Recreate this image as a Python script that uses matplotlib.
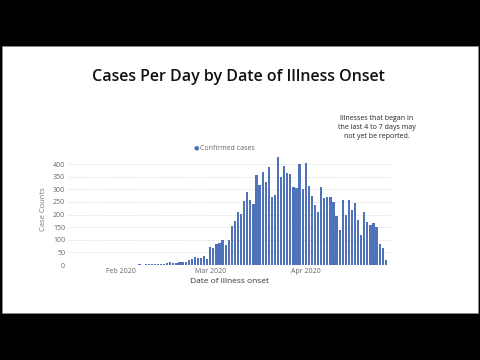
import matplotlib
matplotlib.use("Agg")
import matplotlib.pyplot as plt
import matplotlib.dates as mdates
import numpy as np
from datetime import date, timedelta
from matplotlib.patches import Rectangle

plt.rcParams['font.family'] = ['Open Sans', 'DejaVu Sans']

# ---- data ----
start_date = date(2020, 1, 15)
early_cases = [1, 0, 1, 0, 1, 1, 0, 1, 0, 1, 0, 1, 1, 0, 1, 0, 1, 0, 1, 1, 0, 1,
               1, 2, 1, 2, 3, 2, 3, 4, 3, 5, 6]
later_cases = [13, 8, 8, 12, 12, 12, 18, 25, 30, 26, 28, 36, 25, 70, 66, 82, 86, 99,
               79, 98, 153, 174, 210, 202, 253, 289, 256, 240, 358, 319, 367, 330,
               389, 268, 276, 430, 350, 392, 363, 359, 309, 305, 400, 302, 405, 313,
               273, 238, 211, 308, 264, 268, 269, 251, 194, 137, 259, 198, 256, 218,
               244, 178, 119, 209, 169, 158, 165, 152, 82, 69, 20]
cases = early_cases + later_cases
dates = [start_date + timedelta(days=i) for i in range(len(cases))]
y_ticks = [0, 50, 100, 150, 200, 250, 300, 350, 400]
x_tick_dates = [date(2020, 2, 1), date(2020, 3, 1), date(2020, 4, 1)]
x_tick_labels = ["Feb 2020", "Mar 2020", "Apr 2020"]

title = "Cases Per Day by Date of Illness Onset"
note = "Illnesses that began in\nthe last 4 to 7 days may\nnot yet be reported."
bar_color = "#4F72B8"

W, H = 480, 360
fig = plt.figure(figsize=(W / 100, H / 100), dpi=100, facecolor="black")

# white panel
fig.patches.append(Rectangle((2 / W, 1 - 313 / H), 476 / W, 267 / H,
                             transform=fig.transFigure, facecolor="white",
                             edgecolor="#888888", linewidth=0.6, zorder=-5))

ax = fig.add_axes([68 / W, 1 - 265 / H, (392 - 68) / W, (265 - 154) / H])
ax.set_zorder(2)
ax.set_facecolor("none")
xnum = mdates.date2num(dates)
ax.bar(xnum, cases, width=0.72, color=bar_color, zorder=3)

feb1 = mdates.date2num(date(2020, 2, 1))
ax.set_xlim(feb1 - 17.2, feb1 + 88)
ax.set_ylim(0, 440)
ax.set_yticks(y_ticks)
ax.set_yticklabels([str(v) for v in y_ticks], fontsize=5, color="#666666")
ax.set_xticks(mdates.date2num(x_tick_dates))
ax.set_xticklabels(x_tick_labels, fontsize=5, color="#666666")
ax.tick_params(axis="both", length=0, pad=2)
for s in ax.spines.values():
    s.set_visible(False)
ax.grid(axis="y", linestyle=(0, (1, 2)), color="#bbbbbb", linewidth=0.5, zorder=0)
ax.set_ylabel("Case Counts", fontsize=5.5, color="#777777", labelpad=4)
ax.set_xlabel("Date of illness onset", fontsize=6, color="#333333", labelpad=2)

fig.text(238 / W, 1 - 77 / H, title, ha="center", va="center",
         fontsize=11.5, fontweight="semibold", color="#111111", zorder=3)
fig.text(377 / W, 1 - 127 / H, note, ha="center", va="center",
         fontsize=5, color="#222222", linespacing=1.4, zorder=3)

# legend
fig.text(196 / W, 1 - 148 / H, "\u25CF", ha="center", va="center",
         fontsize=4.5, color=bar_color, family=['DejaVu Sans'], zorder=3)
fig.text(200 / W, 1 - 148 / H, "Confirmed cases", ha="left", va="center",
         fontsize=5, color="#666666", zorder=3)

fig.savefig("out.png", dpi=100, facecolor="black")
